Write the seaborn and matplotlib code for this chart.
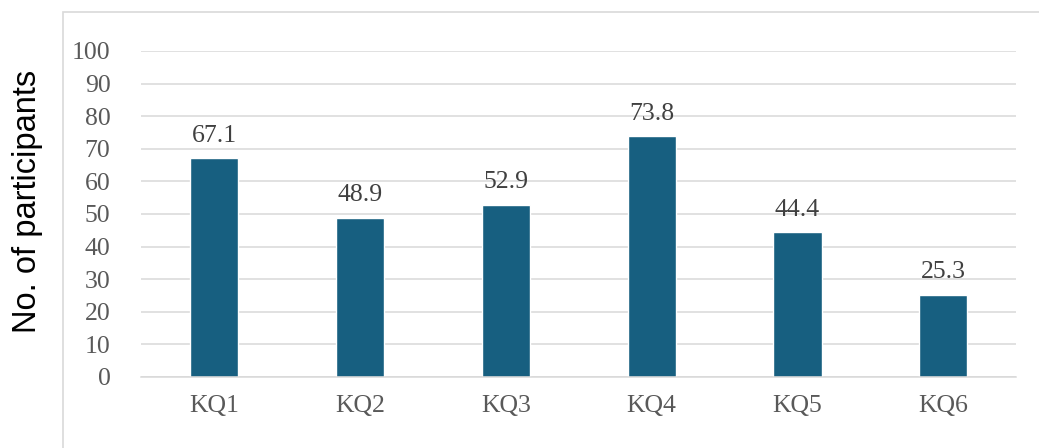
import pandas as pd
import numpy as np
from matplotlib import pyplot as plt
from matplotlib.patches import Rectangle
import seaborn as sns

categories = ['KQ1', 'KQ2', 'KQ3', 'KQ4', 'KQ5', 'KQ6']
values = [67.1, 48.9, 52.9, 73.8, 44.4, 25.3]
yticks = [0, 10, 20, 30, 40, 50, 60, 70, 80, 90, 100]

df = pd.DataFrame({'question': categories, 'participants': values})

sns.set_style('white')
plt.rcParams['font.family'] = ['Liberation Serif', 'DejaVu Serif']

fig = plt.figure(figsize=(10.39, 4.48), dpi=100)
ax = fig.add_axes([0.1357, 0.1585, 0.8425, 0.7277])

bars = sns.barplot(data=df, x='question', y='participants', color='#175f80',
                   width=0.33, saturation=1, ax=ax)

ax.set_ylim(0, 100)
ax.set_yticks(yticks)
ax.set_xlim(-0.5, 5.5)
ax.yaxis.grid(True, color='#d9d9d9', linewidth=1.1)
ax.set_axisbelow(True)
sns.despine(ax=ax, left=True)
ax.spines['bottom'].set_color('#d9d9d9')
ax.spines['bottom'].set_linewidth(1.1)

ax.tick_params(axis='y', length=0, pad=22, labelsize=18.5, labelcolor='#595959')
ax.tick_params(axis='x', length=0, pad=13, labelsize=18.5, labelcolor='#595959')
for lab in ax.get_yticklabels():
    lab.set_horizontalalignment('right')

ax.bar_label(ax.containers[0], fmt='%.1f', padding=8, fontsize=18.5, color='#404040')

ax.set_xlabel('')
ax.set_ylabel('No. of participants', family='Liberation Sans', fontsize=23.5, color='black')
ax.yaxis.set_label_coords(-0.112, 0.54)

# outer chart frame
fig.patches.append(Rectangle((63 / 1039, -0.01), 1.0, 1 - 12 / 448 + 0.01,
                             transform=fig.transFigure, fill=False,
                             edgecolor='#d9d9d9', linewidth=1.2))

plt.savefig('out.png', dpi=100)
